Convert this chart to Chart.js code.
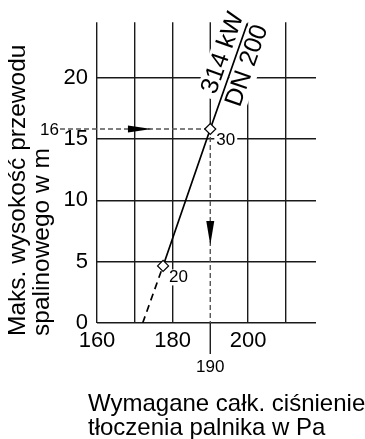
<!DOCTYPE html>
<html>
<head>
<meta charset="utf-8">
<script src="https://cdn.jsdelivr.net/npm/chart.js@4"></script>
<style>
  html, body { margin: 0; padding: 0; background: #fff; }
</style>
</head>
<body>
<canvas id="chart" width="365" height="439"></canvas>
<script>
const xTicks = [160, 170, 180, 190, 200, 210];
const xLabels = [160, 180, 200];
const yTicks = [0, 5, 10, 15, 20];

// 314 kW / DN 200 curve
const curveX = [177.5, 190, 199.8];
const curveY = [4.65, 15.8, 24.4];
const curvePointLabels = ['20', '30', ''];
// dashed part down to the axis
const extX = [172.1, 177.5];
const extY = [0, 4.65];

// reading example
const readX = 190;
const readY = 15.8;
const readXLabel = '190';
const readYLabel = '16';

const curveLabels = ['314 kW', 'DN 200'];
const xTitle = ['Wymagane całk. ciśnienie', 'tłoczenia palnika w Pa'];
const yTitle = ['Maks. wysokość przewodu', 'spalinowego w m'];

const FONT = '"Liberation Sans", Arial, sans-serif';
const GRID = '#1a1a1a';

function rotRect(ctx, cx, cy, ang, w, h) {
  ctx.save();
  ctx.translate(cx, cy);
  ctx.rotate(ang);
  ctx.fillRect(-w / 2, -h / 2, w, h);
  ctx.restore();
}

const extras = {
  id: 'extras',
  beforeDatasetsDraw(chart) {
    const ctx = chart.ctx;
    const xs = chart.scales.x, ys = chart.scales.y;
    const px = xs.getPixelForValue(readX), py = ys.getPixelForValue(readY);

    // the 190 line: solid above the point, dashed below, solid under the axis
    ctx.save();
    ctx.strokeStyle = GRID;
    ctx.lineWidth = 1.4;
    ctx.beginPath();
    ctx.moveTo(px, ys.top); ctx.lineTo(px, py);
    ctx.moveTo(px, ys.bottom); ctx.lineTo(px, ys.bottom + 31);
    ctx.stroke();
    ctx.strokeStyle = '#555';
    ctx.setLineDash([5, 3]);
    ctx.beginPath();
    ctx.moveTo(px, py); ctx.lineTo(px, ys.bottom);
    ctx.moveTo(xs.left - 37, py); ctx.lineTo(px, py);
    ctx.stroke();
    ctx.restore();

    // white boxes behind the labels
    const p1 = { x: xs.getPixelForValue(curveX[1]), y: ys.getPixelForValue(curveY[1]) };
    const p2 = { x: xs.getPixelForValue(curveX[2]), y: ys.getPixelForValue(curveY[2]) };
    const len = Math.hypot(p2.x - p1.x, p2.y - p1.y);
    const u = { x: (p2.x - p1.x) / len, y: (p2.y - p1.y) / len };
    const up = { x: u.y, y: -u.x };
    const ang = Math.atan2(u.y, u.x);
    chart.$lbl = [
      { t: curveLabels[0], x: p2.x - 36 * u.x + 13 * up.x, y: p2.y - 36 * u.y + 13 * up.y },
      { t: curveLabels[1], x: p2.x - 40 * u.x - 14 * up.x, y: p2.y - 40 * u.y - 14 * up.y }
    ];
    chart.$ang = ang;
    ctx.save();
    ctx.fillStyle = '#fff';
    ctx.font = '25px ' + FONT;
    chart.$lbl.forEach(l => {
      const w = ctx.measureText(l.t).width;
      rotRect(ctx, l.x, l.y, ang, w + 10, 26);
    });
    ctx.font = '17px ' + FONT;
    curveX.forEach((x, i) => {
      if (!curvePointLabels[i]) return;
      const cx = xs.getPixelForValue(x) + 15.5, cy = ys.getPixelForValue(curveY[i]) + 11.5;
      const w = ctx.measureText(curvePointLabels[i]).width;
      ctx.fillRect(cx - w / 2 - 2, cy - 8, w + 4, 16);
    });
    ctx.restore();
  },
  afterDatasetsDraw(chart) {
    const ctx = chart.ctx;
    const xs = chart.scales.x, ys = chart.scales.y;
    const px = xs.getPixelForValue(readX), py = ys.getPixelForValue(readY);
    ctx.save();
    ctx.fillStyle = '#000';

    // arrows
    const ax0 = xs.getPixelForValue(168.2), ax1 = xs.getPixelForValue(174.5);
    ctx.beginPath();
    ctx.moveTo(ax0, py - 3.5); ctx.lineTo(ax1, py); ctx.lineTo(ax0, py + 3.5);
    ctx.closePath(); ctx.fill();
    const ay0 = ys.getPixelForValue(8.3), ay1 = ys.getPixelForValue(6.35);
    ctx.beginPath();
    ctx.moveTo(px - 4, ay0); ctx.lineTo(px, ay1); ctx.lineTo(px + 4, ay0);
    ctx.closePath(); ctx.fill();

    // small labels
    ctx.font = '17px ' + FONT;
    ctx.textAlign = 'center';
    ctx.textBaseline = 'middle';
    curveX.forEach((x, i) => {
      if (!curvePointLabels[i]) return;
      ctx.fillText(curvePointLabels[i], xs.getPixelForValue(x) + 15.5, ys.getPixelForValue(curveY[i]) + 11.5);
    });
    ctx.fillText(readXLabel, px, ys.bottom + 44);
    ctx.textAlign = 'right';
    ctx.fillText(readYLabel, xs.left - 38, py + 1.5);

    // curve labels along the line
    ctx.font = '25px ' + FONT;
    ctx.textAlign = 'center';
    chart.$lbl.forEach(l => {
      ctx.save();
      ctx.translate(l.x, l.y);
      ctx.rotate(chart.$ang);
      ctx.fillText(l.t, 0, 0);
      ctx.restore();
    });

    // axis titles
    ctx.font = '24px ' + FONT;
    ctx.textAlign = 'left';
    ctx.textBaseline = 'alphabetic';
    ctx.fillText(xTitle[0], 88, 411);
    ctx.fillText(xTitle[1], 88, 435);
    ctx.save();
    ctx.translate(25, 336);
    ctx.rotate(-Math.PI / 2);
    ctx.font = '24.5px ' + FONT;
    ctx.fillText(yTitle[0], 0, 0);
    ctx.fillText(yTitle[1], 0, 24.3);
    ctx.restore();
    ctx.restore();
  }
};

new Chart(document.getElementById('chart'), {
  type: 'line',
  data: {
    datasets: [
      {
        data: curveX.map((x, i) => ({ x: x, y: curveY[i] })),
        borderColor: '#000',
        borderWidth: 1.7,
        pointStyle: 'rectRot',
        pointRadius: [5.5, 5.5, 0],
        pointBackgroundColor: '#fff',
        pointBorderColor: '#000',
        pointBorderWidth: 1.2,
        tension: 0,
        clip: false
      },
      {
        data: extX.map((x, i) => ({ x: x, y: extY[i] })),
        borderColor: '#000',
        borderWidth: 1.7,
        borderDash: [7, 5],
        pointRadius: 0,
        tension: 0
      }
    ]
  },
  options: {
    responsive: false,
    animation: false,
    devicePixelRatio: 1,
    events: [],
    layout: { padding: { top: 19, right: 49, left: 0, bottom: 0 } },
    plugins: { legend: { display: false }, tooltip: { enabled: false } },
    scales: {
      x: {
        type: 'linear',
        min: 160,
        max: 218,
        afterBuildTicks: s => { s.ticks = xTicks.map(v => ({ value: v })); },
        afterFit: s => { s.height = 116; },
        ticks: {
          callback: v => xLabels.includes(v) ? String(v) : '',
          autoSkip: false,
          maxRotation: 0,
          padding: 5,
          color: '#000',
          font: { family: FONT, size: 22 }
        },
        grid: {
          color: c => (c.tick && c.tick.value === readX) ? 'rgba(0,0,0,0)' : GRID,
          lineWidth: 1.4,
          drawTicks: false
        },
        border: { display: false }
      },
      y: {
        type: 'linear',
        min: 0,
        max: 24.5,
        afterBuildTicks: s => { s.ticks = yTicks.map(v => ({ value: v })); },
        afterFit: s => { s.width = 97; },
        ticks: {
          padding: 9,
          color: '#000',
          font: { family: FONT, size: 22 }
        },
        grid: { color: GRID, lineWidth: 1.4, drawTicks: false },
        border: { display: false }
      }
    }
  },
  plugins: [extras]
});
</script>
</body>
</html>
